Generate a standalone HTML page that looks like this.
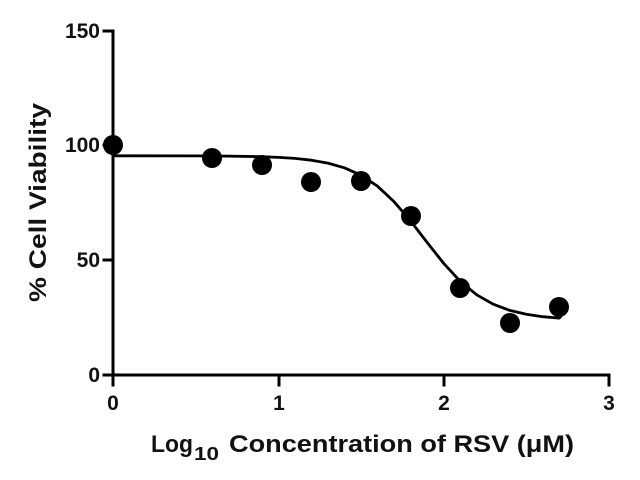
<!DOCTYPE html>
<html>
<head>
<meta charset="utf-8">
<style>
  html, body { margin: 0; padding: 0; background: #ffffff; }
  body { width: 640px; height: 480px; overflow: hidden; }
  svg { display: block; }
  text { font-family: "Liberation Sans", Arial, Helvetica, sans-serif; font-weight: bold; fill: #111; }
</style>
</head>
<body>
<svg width="640" height="480" viewBox="0 0 640 480" xmlns="http://www.w3.org/2000/svg">
  <rect x="0" y="0" width="640" height="480" fill="#ffffff"/>

  <!-- Axes -->
  <g stroke="#000" stroke-width="3" fill="none" stroke-linecap="square">
    <line x1="113" y1="31" x2="113" y2="375"/>
    <line x1="113" y1="375" x2="609" y2="375"/>
    <!-- y ticks -->
    <line x1="104" y1="31" x2="113" y2="31"/>
    <line x1="104" y1="145" x2="113" y2="145"/>
    <line x1="104" y1="260" x2="113" y2="260"/>
    <line x1="104" y1="375" x2="113" y2="375"/>
    <!-- x ticks -->
    <line x1="113" y1="375" x2="113" y2="385"/>
    <line x1="279" y1="375" x2="279" y2="385"/>
    <line x1="444" y1="375" x2="444" y2="385"/>
    <line x1="609" y1="375" x2="609" y2="385"/>
  </g>

  <!-- Y tick labels -->
  <g font-size="21" text-anchor="end">
    <text x="100" y="38">150</text>
    <text x="100" y="152">100</text>
    <text x="100" y="267">50</text>
    <text x="100" y="382">0</text>
  </g>

  <!-- X tick labels -->
  <g font-size="21" text-anchor="middle">
    <text x="113" y="410">0</text>
    <text x="279" y="410">1</text>
    <text x="444" y="410">2</text>
    <text x="609" y="410">3</text>
  </g>

  <!-- Fitted curve -->
  <polyline fill="none" stroke="#000" stroke-width="2.8" stroke-linejoin="round" stroke-linecap="round"
    points="113,155.8 195.7,155.9 228.7,156.1 261.8,156.7 278.3,157.4 294.8,158.4 311.4,160.2 327.9,163.1 344.4,167.8 361,175.2 377.5,186.2 394,201.6 410.5,220.9 427.1,242.4 443.6,263.3 460.1,281.2 476.7,294.8 493.2,304.2 509.7,310.4 526.3,314.3 542.8,316.7 559.3,318.1 562,315"/>

  <!-- Data points -->
  <g fill="#000">
    <circle cx="113" cy="145" r="10"/>
    <circle cx="212" cy="158" r="10"/>
    <circle cx="262" cy="165" r="10"/>
    <circle cx="311" cy="182" r="10"/>
    <circle cx="361" cy="181" r="10"/>
    <circle cx="411" cy="216" r="10"/>
    <circle cx="460" cy="288" r="10"/>
    <circle cx="510" cy="323" r="10"/>
    <circle cx="559" cy="307" r="10"/>
  </g>

  <!-- X axis title -->
  <text x="151" y="452" font-size="24.5" textLength="42" lengthAdjust="spacingAndGlyphs">Log</text>
  <text x="194" y="460" font-size="18" textLength="25" lengthAdjust="spacingAndGlyphs">10</text>
  <text x="229" y="452" font-size="24.5" textLength="345" lengthAdjust="spacingAndGlyphs">Concentration of RSV (μM)</text>

  <!-- Y axis title -->
  <text transform="translate(46,202.5) rotate(-90)" x="0" y="0" font-size="24.5" text-anchor="middle" textLength="199" lengthAdjust="spacingAndGlyphs">% Cell Viability</text>
</svg>
</body>
</html>
